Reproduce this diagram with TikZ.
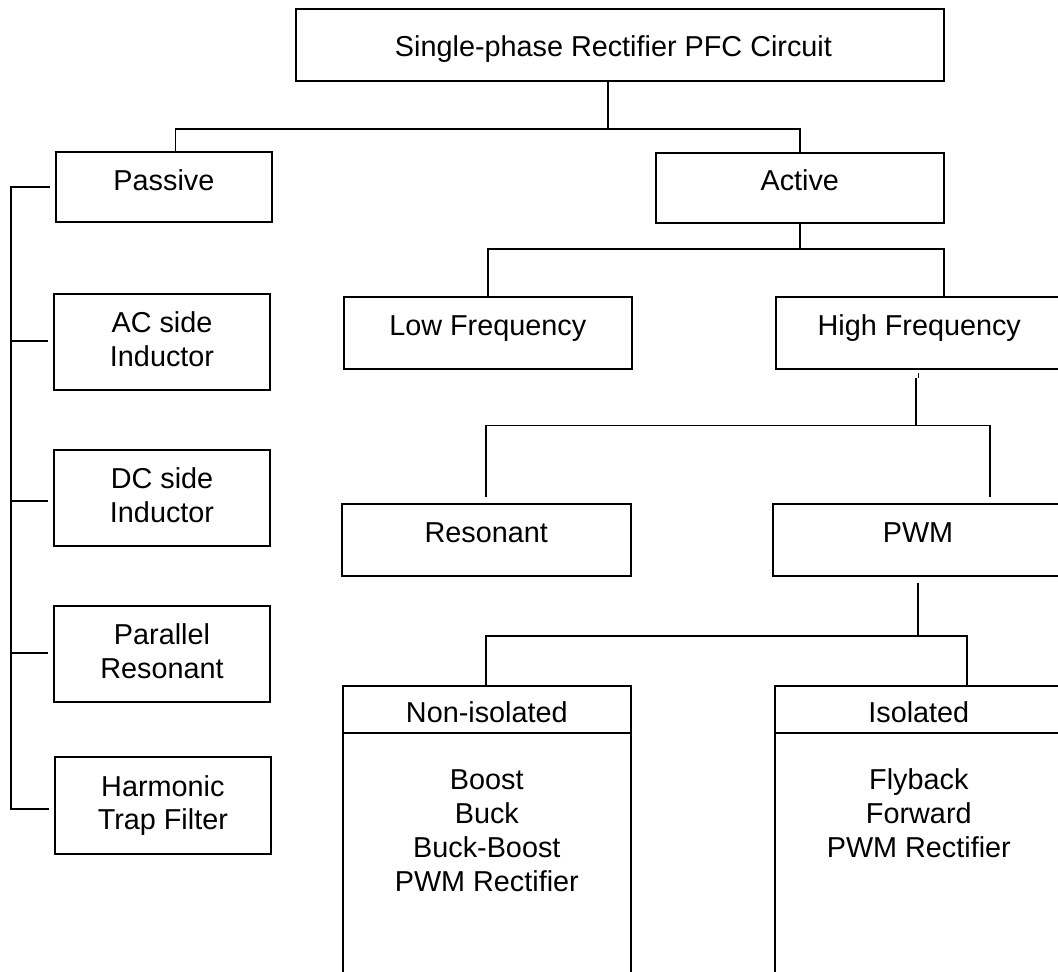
\documentclass[tikz,border=0pt]{standalone}
\usepackage{fontspec}
\setmainfont{Liberation Sans}
\usetikzlibrary{calc}
\begin{document}
\begin{tikzpicture}[x=1pt,y=-1pt,
  box/.style={draw, line width=2pt, rectangle, inner sep=0pt},
  conn/.style={line width=1.5pt},
  lbl/.style={font=\fontsize{28.8}{33.5}\selectfont, anchor=base, inner sep=0pt}]
\useasboundingbox (0,0) rectangle (1058,972);
\clip (0,0) rectangle (1058,972);
% boxes
\node[box, minimum width=648.5pt, minimum height=72pt] (top) at (619.75,45) {};
\node[box, minimum width=216.2pt, minimum height=70pt] (passive) at (163.9,187) {};
\node[box, minimum width=288.5pt, minimum height=70pt] (active) at (799.75,188) {};
\node[box, minimum width=216pt, minimum height=96pt] (ac) at (162,342) {};
\node[box, minimum width=216pt, minimum height=96pt] (dc) at (162,498) {};
\node[box, minimum width=216pt, minimum height=96pt] (par) at (162,654) {};
\node[box, minimum width=216.3pt, minimum height=97pt] (harm) at (162.85,805.5) {};
\node[box, minimum width=288.4pt, minimum height=72pt] (lf) at (487.8,333) {};
\node[box, minimum width=287.4pt, minimum height=72pt] (hf) at (919.3,333) {};
\node[box, minimum width=288.6pt, minimum height=72pt] (res) at (486.3,540) {};
\node[box, minimum width=290pt, minimum height=72pt] (pwm) at (918,540) {};
\node[box, minimum width=288.4pt, minimum height=314.3pt] (noniso) at (486.8,842.85) {};
\node[box, minimum width=288.4pt, minimum height=314.3pt] (iso) at (918.8,842.85) {};
\draw[line width=2pt] ($(noniso.north west)+(0,48)$) -- ($(noniso.north east)+(0,48)$);
\draw[line width=2pt] ($(iso.north west)+(0,48)$) -- ($(iso.north east)+(0,48)$);
% texts
\node[lbl] (top-t) at ($(top.center)+(-6.3,11.7)$) {Single-phase Rectifier PFC Circuit};
\node[lbl] (passive-t) at ($(passive.center)+(0,3)$) {Passive};
\node[lbl] (active-t) at ($(active.center)+(0,2)$) {Active};
\node[lbl] (ac-t1) at ($(ac.center)+(0,-9.5)$) {AC side};
\node[lbl] (ac-t2) at ($(ac.center)+(0,24)$) {Inductor};
\node[lbl] (dc-t1) at ($(dc.center)+(0,-10)$) {DC side};
\node[lbl] (dc-t2) at ($(dc.center)+(0,24)$) {Inductor};
\node[lbl] (par-t1) at ($(par.center)+(0,-10)$) {Parallel};
\node[lbl] (par-t2) at ($(par.center)+(0,24)$) {Resonant};
\node[lbl] (harm-t1) at ($(harm.center)+(0,-9.5)$) {Harmonic};
\node[lbl] (harm-t2) at ($(harm.center)+(0,24)$) {Trap Filter};
\node[lbl] (lf-t) at ($(lf.center)+(0,2)$) {Low Frequency};
\node[lbl] (hf-t) at ($(hf.center)+(0,2)$) {High Frequency};
\node[lbl] (res-t) at ($(res.center)+(0,2)$) {Resonant};
\node[lbl] (pwm-t) at ($(pwm.center)+(0,2)$) {PWM};
\node[lbl] (noniso-h) at ($(noniso.north)+(0,37.3)$) {Non-isolated};
\node[lbl] (noniso-1) at ($(noniso.north)+(0,105)$) {Boost};
\node[lbl] (noniso-2) at ($(noniso.north)+(0,139)$) {Buck};
\node[lbl] (noniso-3) at ($(noniso.north)+(0,173)$) {Buck-Boost};
\node[lbl] (noniso-4) at ($(noniso.north)+(0,206.5)$) {PWM Rectifier};
\node[lbl] (iso-h) at ($(iso.north)+(0,37.3)$) {Isolated};
\node[lbl] (iso-1) at ($(iso.north)+(0,105)$) {Flyback};
\node[lbl] (iso-2) at ($(iso.north)+(0,139)$) {Forward};
\node[lbl] (iso-3) at ($(iso.north)+(0,173)$) {PWM Rectifier};
% bus coordinates
\coordinate (b1L) at (175.6,129);
\coordinate (b1M) at (608,129);
\coordinate (b1R) at (800,129);
\coordinate (b2L) at (488,249);
\coordinate (b2M) at (800,249);
\coordinate (b2R) at (944,249);
\coordinate (hfk) at (918.5,378);
\coordinate (b3L) at (486,425.7);
\coordinate (b3M) at (916,425.7);
\coordinate (b3R) at (990,425.7);
\coordinate (b4L) at (486,636);
\coordinate (b4M) at (918,636);
\coordinate (b4R) at (967,636);
\coordinate (lbus) at (11,0);
% connectors
\draw[conn] (top.south -| b1M) -- (b1M);
\draw[conn] (passive.north -| b1L) -- (b1L) -- (b1R) -- (active.north -| b1R);
\draw[conn] (active.south -| b2M) -- (b2M);
\draw[conn] (lf.north -| b2L) -- (b2L) -- (b2R) -- (hf.north -| b2R);
\draw[line width=1pt] ($(hf.south -| hfk)+(0,3)$) -- (hfk);
\draw[conn] (hfk -| b3M) -- (b3M);
\draw[conn] ($(res.north -| b3L)+(0,-6)$) -- (b3L) -- (b3R) -- ($(pwm.north -| b3R)+(0,-6)$);
\draw[conn] ($(pwm.south)+(0,6)$) -- (b4M);
\draw[conn] (noniso.north -| b4L) -- (b4L) -- (b4R) -- (iso.north -| b4R);
\draw[conn] ($(passive.west)+(-5,0)$) -| ($(harm.west -| lbus)+(0,3.5)$) -- ($(harm.west)+(-5,3.5)$);
\draw[conn] ($(ac.west -| lbus)+(0,-1)$) -- ($(ac.west)+(-5,-1)$);
\draw[conn] ($(dc.west -| lbus)+(0,3)$) -- ($(dc.west)+(-5,3)$);
\draw[conn] ($(par.west -| lbus)+(0,-1)$) -- ($(par.west)+(-5,-1)$);
\end{tikzpicture}
\end{document}
